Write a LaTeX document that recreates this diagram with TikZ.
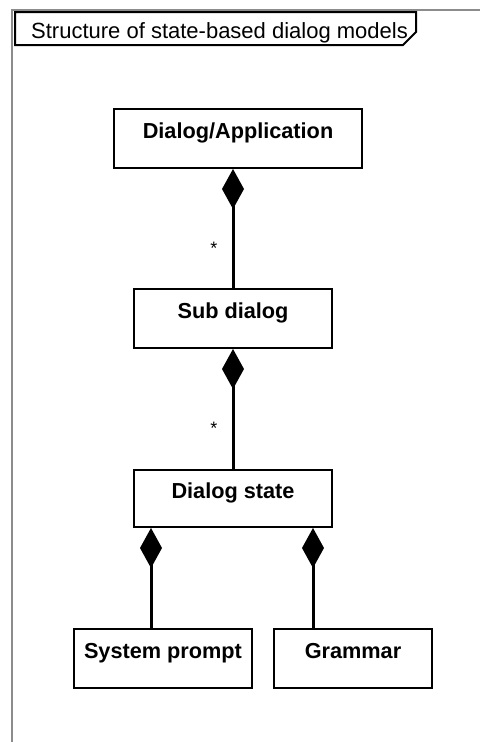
\documentclass[tikz,border=0pt]{standalone}
\usepackage{fontspec}
\setmainfont{Liberation Sans}
\usetikzlibrary{arrows.meta}
\definecolor{framegray}{HTML}{8C8C8C}
\tikzset{
  umlbox/.style={draw, line width=2pt, fill=white, inner sep=0pt,
    text height=29pt, text depth=30pt, anchor=base,
    font=\fontsize{21.7}{24}\selectfont\bfseries},
  comp/.style={line width=3pt,
    {Diamond[length=40pt,width=22pt,line width=0pt]}-},
  mult/.style={anchor=base, inner sep=0pt, font=\fontsize{18}{20}\selectfont},
  frameline/.style={draw=framegray, line width=2pt},
  tabline/.style={draw=black, line width=2pt, fill=white, line join=miter}
}
\begin{document}
\begin{tikzpicture}[x=1pt,y=-1pt]
  \useasboundingbox (0,0) rectangle (480,742);
  % diagram frame and its name tab
  \draw[frameline] (12,742) -- (12,10) -- (480,10);
  \draw[tabline] (15,12) -- (416,12) -- (416,32) -- (403,45) -- (15,45) -- cycle;
  \node[anchor=base west, inner sep=0pt, font=\fontsize{22}{24}\selectfont]
    (title) at (31,38) {Structure of state-based dialog models};

  % classes
  \node[umlbox, minimum width=248pt] (app)   at (238,138) {Dialog/Application};
  \node[umlbox, minimum width=198pt] (sub)   at (233,318) {Sub dialog};
  \node[umlbox, minimum width=198pt, text height=28pt, text depth=29pt]
                                     (state) at (233,498) {Dialog state};
  \node[umlbox, minimum width=178pt] (sp)    at (163,658) {System prompt};
  \node[umlbox, minimum width=158pt] (gram)  at (353,658) {Grammar};

  % composition associations
  \draw[comp] (app.south -| sub.north) -- (sub.north);
  \draw[comp] (sub.south) -- (state.north);
  \coordinate (spjoin)   at ([xshift=18pt]state.south west);
  \coordinate (gramjoin) at ([xshift=-20pt]state.south east);
  \draw[comp] (spjoin) -- (spjoin |- sp.north);
  \draw[comp] (gramjoin) -- (gramjoin |- gram.north);

  % multiplicities
  \node[mult] (m1) at (214,254) {*};
  \node[mult] (m2) at (214,434) {*};
\end{tikzpicture}
\end{document}
